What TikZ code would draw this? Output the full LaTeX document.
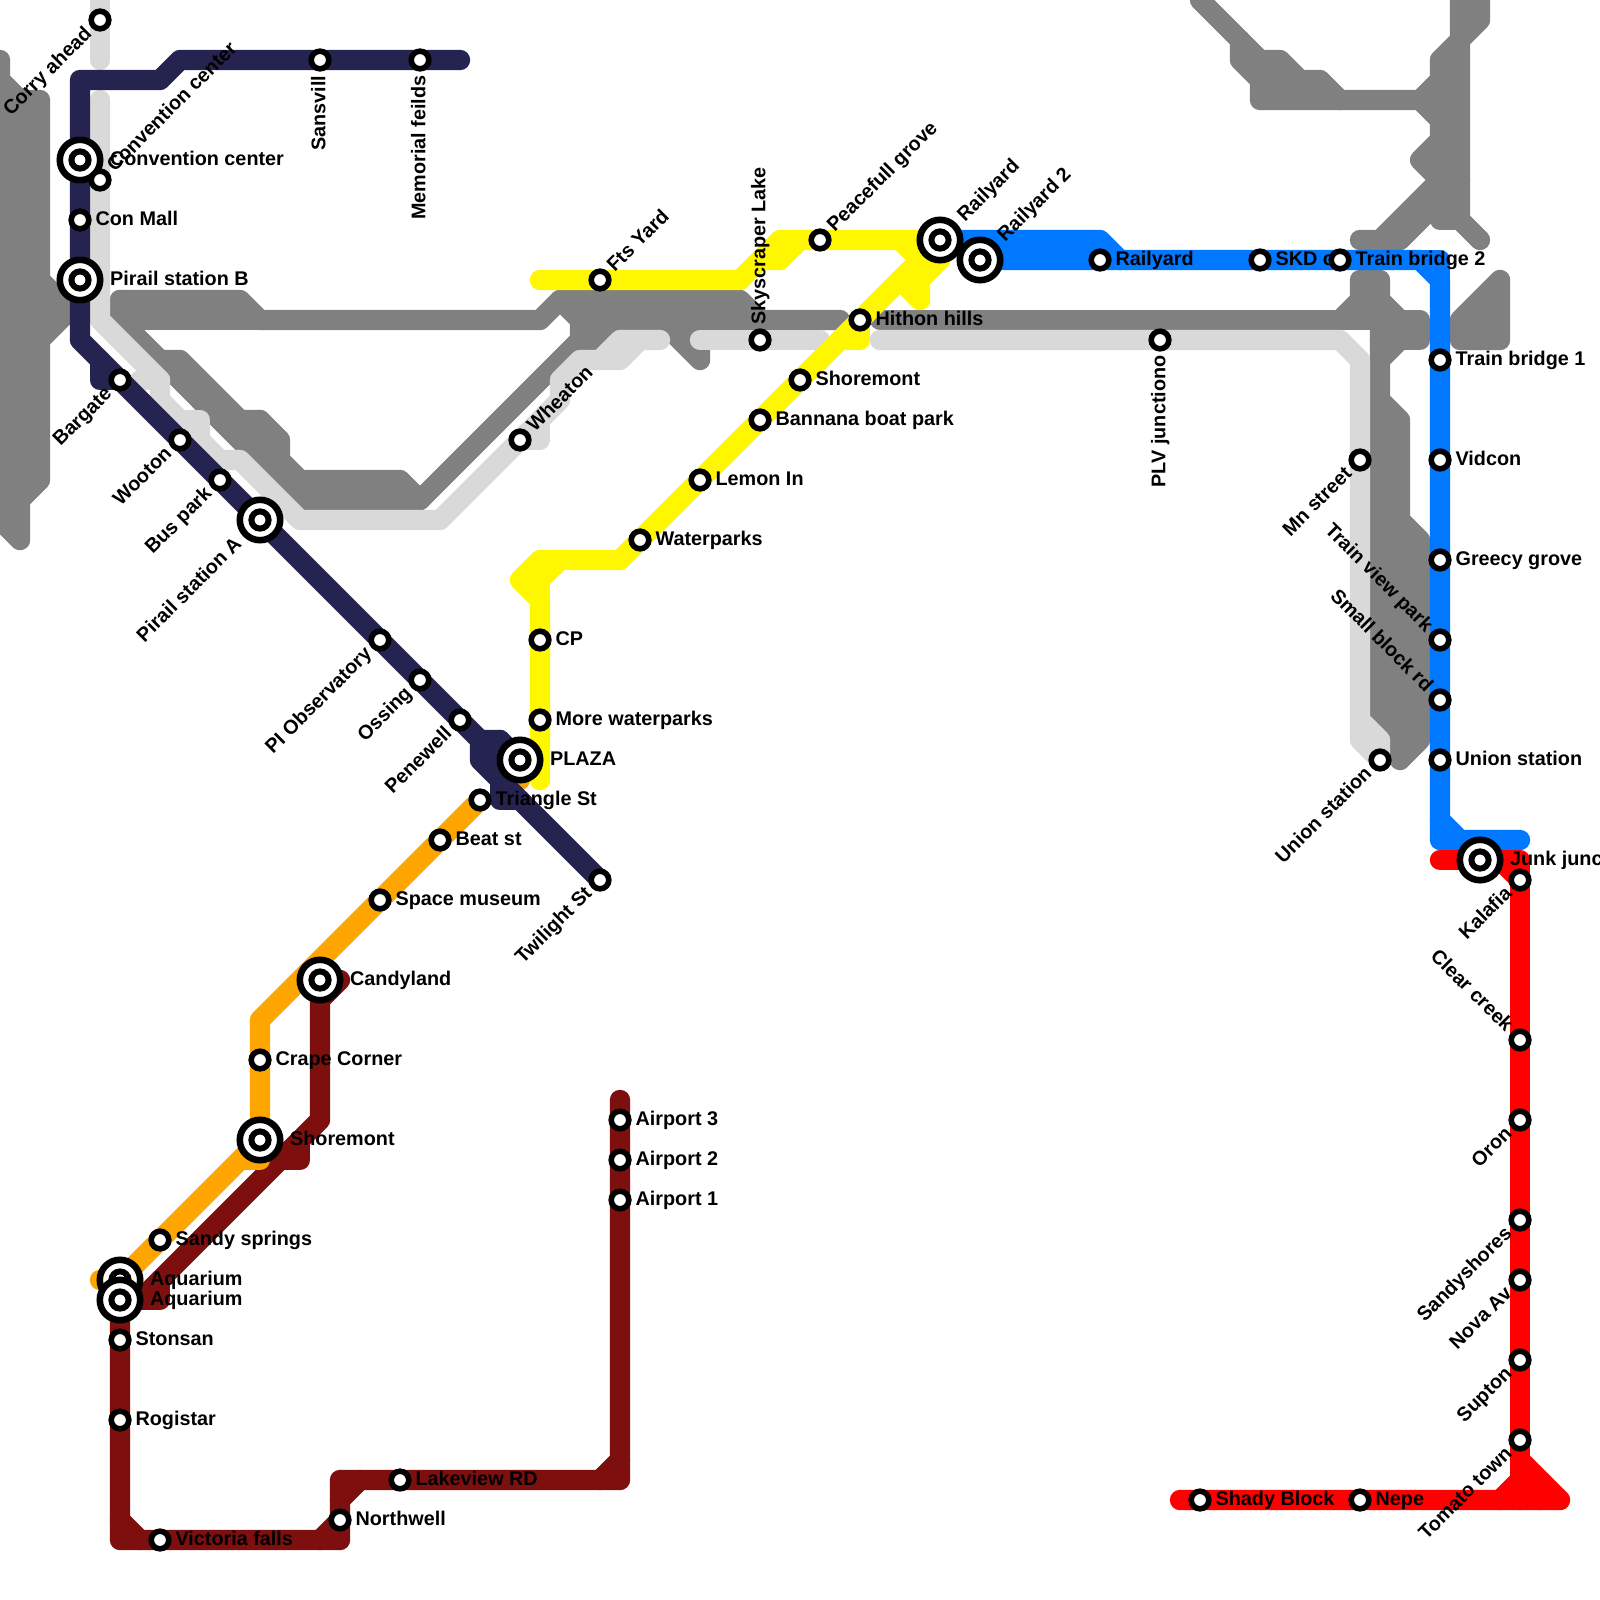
\documentclass[tikz,border=0pt]{standalone}
\usepackage{fontspec}
\setmainfont{Liberation Sans}
\usepackage{tikz}
\usetikzlibrary{backgrounds}

\definecolor{navyline}{HTML}{252350}
\definecolor{grayline}{HTML}{808080}
\definecolor{lightline}{HTML}{D9D9D9}
\definecolor{blueline}{HTML}{0078FF}
\definecolor{redline}{HTML}{FF0000}
\definecolor{yellowline}{HTML}{FFF700}
\definecolor{orangeline}{HTML}{FFA500}
\definecolor{wineline}{HTML}{7D0F0F}

\tikzset{
  metro/.style={line width=10.2pt,line cap=round,line join=round},
  stop/.style={draw,circle,color=black,fill=white,line width=2.8pt,minimum size=8.8pt,inner sep=0pt},
  hub/.style={draw,circle,color=black,fill=white,line width=3.3pt,minimum size=20.2pt,inner sep=0pt,
    path picture={\draw[line width=3pt] (path picture bounding box.center) circle (4.3pt);}},
  every label/.style={font=\bfseries\fontsize{9.9}{12}\selectfont,inner sep=0pt,text=black},
  labE/.style={anchor=base west,xshift=1.8pt,yshift=-2.7pt},
  labNE/.style={rotate=45,anchor=base west,xshift=1.8pt,yshift=-2.7pt},
  labSW/.style={rotate=45,anchor=base east,xshift=-1.8pt,yshift=-2.7pt},
  labN/.style={rotate=90,anchor=base west,xshift=1.8pt,yshift=-2.7pt},
  labS/.style={rotate=90,anchor=base east,xshift=-1.8pt,yshift=-2.7pt},
  labNW/.style={rotate=-45,anchor=base east,xshift=-1.8pt,yshift=-2.7pt},
}

\begin{document}
\begin{tikzpicture}[x=10pt,y=-10pt]
\useasboundingbox (0,0) rectangle (80,80);

\node (corry) at (5,1) [stop, label={[labSW]225:Corry ahead}] {};
\node (convhub) at (4,8) [hub, label={[labE,xshift=1.3pt]0:Convention center}] {};
\node (conv) at (5,9) [stop, label={[labNE]45:Convention center}] {};
\node (conmall) at (4,11) [stop, label={[labE]0:Con Mall}] {};
\node (pirailb) at (4,14) [hub, label={[labE,xshift=1.3pt]0:Pirail station B}] {};
\node (bargate) at (6,19) [stop, label={[labSW]225:Bargate}] {};
\node (wooton) at (9,22) [stop, label={[labSW]225:Wooton}] {};
\node (buspark) at (11,24) [stop, label={[labSW]225:Bus park}] {};
\node (piraila) at (13,26) [hub, label={[labSW,xshift=-1.3pt]225:Pirail station A}] {};
\node (plobs) at (19,32) [stop, label={[labSW]225:PI Observatory}] {};
\node (ossing) at (21,34) [stop, label={[labSW]225:Ossing}] {};
\node (penewell) at (23,36) [stop, label={[labSW]225:Penewell}] {};
\node (twilight) at (30,44) [stop, label={[labSW]225:Twilight St}] {};
\node (sansvill) at (16,3) [stop, label={[labS]270:Sansvill}] {};
\node (memorial) at (21,3) [stop, label={[labS]270:Memorial feilds}] {};

\node (plaza) at (26,38) [hub, label={[labE,xshift=1.3pt]0:PLAZA}] {};
\node (triangle) at (24,40) [stop, label={[labE]0:Triangle St}] {};
\node (beat) at (22,42) [stop, label={[labE]0:Beat st}] {};
\node (space) at (19,45) [stop, label={[labE]0:Space museum}] {};
\node (candy) at (16,49) [hub, label={[labE,xshift=1.3pt]0:Candyland}] {};
\node (crape) at (13,53) [stop, label={[labE]0:Crape Corner}] {};
\node (shorehub) at (13,57) [hub, label={[labE,xshift=1.3pt]0:Shoremont}] {};
\node (sandy) at (8,62) [stop, label={[labE]0:Sandy springs}] {};
\node (aquaone) at (6,64) [hub, label={[labE,xshift=1.3pt]0:Aquarium}] {};
\node (aquatwo) at (6,65) [hub, label={[labE,xshift=1.3pt]0:Aquarium}] {};
\node (stonsan) at (6,67) [stop, label={[labE]0:Stonsan}] {};
\node (rogistar) at (6,71) [stop, label={[labE]0:Rogistar}] {};
\node (victoria) at (8,77) [stop, label={[labE]0:Victoria falls}] {};
\node (northwell) at (17,76) [stop, label={[labE]0:Northwell}] {};
\node (lakeview) at (20,74) [stop, label={[labE]0:Lakeview RD}] {};
\node (airthree) at (31,56) [stop, label={[labE]0:Airport 3}] {};
\node (airtwo) at (31,58) [stop, label={[labE]0:Airport 2}] {};
\node (airone) at (31,60) [stop, label={[labE]0:Airport 1}] {};

\node (fts) at (30,14) [stop, label={[labNE]45:Fts Yard}] {};
\node (wheaton) at (26,22) [stop, label={[labNE]45:Wheaton}] {};
\node (skyscraper) at (38,17) [stop, label={[labN]90:Skyscraper Lake}] {};
\node (peacefull) at (41,12) [stop, label={[labNE]45:Peacefull grove}] {};
\node (hithon) at (43,16) [stop, label={[labE]0:Hithon hills}] {};
\node (shoremont) at (40,19) [stop, label={[labE]0:Shoremont}] {};
\node (bannana) at (38,21) [stop, label={[labE]0:Bannana boat park}] {};
\node (lemon) at (35,24) [stop, label={[labE]0:Lemon In}] {};
\node (waterparks) at (32,27) [stop, label={[labE]0:Waterparks}] {};
\node (cp) at (27,32) [stop, label={[labE]0:CP}] {};
\node (morewater) at (27,36) [stop, label={[labE]0:More waterparks}] {};

\node (railone) at (47,12) [hub, label={[labNE,xshift=1.3pt]45:Railyard}] {};
\node (railtwo) at (49,13) [hub, label={[labNE,xshift=1.3pt]45:Railyard 2}] {};
\node (railyard) at (55,13) [stop, label={[labE]0:Railyard}] {};
\node (skd) at (63,13) [stop, label={[labE]0:SKD c}] {};
\node (bridgetwo) at (67,13) [stop, label={[labE]0:Train bridge 2}] {};
\node (plv) at (58,17) [stop, label={[labS]270:PLV junctiono}] {};
\node (bridgeone) at (72,18) [stop, label={[labE]0:Train bridge 1}] {};
\node (vidcon) at (72,23) [stop, label={[labE]0:Vidcon}] {};
\node (greecy) at (72,28) [stop, label={[labE]0:Greecy grove}] {};
\node (trainview) at (72,32) [stop, label={[labNW]135:Train view park}] {};
\node (smallblock) at (72,35) [stop, label={[labNW]135:Small block rd}] {};
\node (unionright) at (72,38) [stop, label={[labE]0:Union station}] {};
\node (mnstreet) at (68,23) [stop, label={[labSW]225:Mn street}] {};
\node (unionleft) at (69,38) [stop, label={[labSW]225:Union station}] {};

\node (junk) at (74,43) [hub, label={[labE,xshift=1.3pt]0:Junk junc}] {};
\node (kalafia) at (76,44) [stop, label={[labSW]225:Kalafia}] {};
\node (clear) at (76,52) [stop, label={[labNW]135:Clear creek}] {};
\node (oron) at (76,56) [stop, label={[labSW]225:Oron}] {};
\node (sandyshores) at (76,61) [stop, label={[labSW]225:Sandyshores}] {};
\node (nova) at (76,64) [stop, label={[labSW]225:Nova Av}] {};
\node (supton) at (76,68) [stop, label={[labSW]225:Supton}] {};
\node (tomato) at (76,72) [stop, label={[labSW]225:Tomato town}] {};
\node (shady) at (60,75) [stop, label={[labE]0:Shady Block}] {};
\node (nepe) at (68,75) [stop, label={[labE]0:Nepe}] {};

\begin{scope}[on background layer]
% gray
\draw[metro,grayline] (0,3) -- (0,26) -- (1,27) -- (1,25) -- (2,24) -- (2,5) -- (1,5) -- (0,4);
\draw[metro,grayline] (1,5) -- (1,25);
\draw[metro,grayline] (2,14) -- (4,16);
\draw[metro,grayline] (2,17) -- (4,15);
\draw[metro,grayline] (2,15) -- (3,15.5) -- (2,16);
\draw[metro,grayline] (6,15) -- (12,15) -- (13,16) -- (27,16) -- (28,15) -- (37,15) -- (38,16) -- (42,16);
\draw[metro,grayline] (6,16) -- (13,16);
\draw[metro,grayline] (6,15) -- (6,16) -- (15,25) -- (21,25) -- (29,17) -- (29,16) -- (28,15);
\draw[metro,grayline] (8,18) -- (9,18) -- (12,21) -- (13,21) -- (14,22) -- (14,23) -- (15,24) -- (20,24) -- (21,25);
\draw[metro,grayline] (12,21) -- (14,23);
\draw[metro,grayline] (13,21) -- (13,23);
\draw[metro,grayline] (15,25) -- (14,23);
\draw[metro,grayline] (10,20) -- (14,24);
\draw[metro,grayline] (29,16) -- (38,16);
\draw[metro,grayline] (29,17) -- (30,17) -- (31,16);
\draw[metro,grayline] (33,16) -- (34,17) -- (35,17) -- (35,18) -- (34,17);
\draw[metro,grayline] (44,16) -- (71,16) -- (71,17) -- (69,17);
\draw[metro,grayline] (67,16) -- (68,15) -- (68,14) -- (69,14) -- (69,15) -- (70,16);
\draw[metro,grayline] (68,15) -- (68,16);
\draw[metro,grayline] (69,15) -- (69,36) -- (70,37) -- (70,38) -- (71,37) -- (71,27) -- (70,26) -- (70,21) -- (69,20);
\draw[metro,grayline] (70,17) -- (69,18);
\draw[metro,grayline] (70,26) -- (70,37);
\draw[metro,grayline] (60,0) -- (62,2) -- (62,3) -- (63,4) -- (63,5) -- (71,5) -- (72,6) -- (72,7) -- (71,8) -- (72,9) -- (69,12) -- (68,12);
\draw[metro,grayline] (62,2) -- (63,3) -- (64,3) -- (65,4) -- (66,4) -- (67,5);
\draw[metro,grayline] (63,4) -- (65,4);
\draw[metro,grayline] (71,5) -- (72,4) -- (72,3) -- (73,2) -- (74,1) -- (74,-1);
\draw[metro,grayline] (73,-1) -- (73,11) -- (74,12);
\draw[metro,grayline] (72,3) -- (72,11) -- (73,11);
\draw[metro,grayline] (69,12) -- (70,12) -- (73,9);
\draw[metro,grayline] (73,16) -- (75,14) -- (75,17) -- (73,17) -- cycle;
\draw[metro,grayline] (74,15) -- (74,17);
% light gray
\draw[metro,lightline] (5,-1) -- (corry.center) -- (5,3);
\draw[metro,lightline] (5,5) -- (conv.center) -- (5,16) -- (8,19) -- (8,20) -- (11,23) -- (12,23) -- (15,26) -- (22,26) -- (wheaton.center) -- (28,20) -- (28,19) -- (29,18) -- (31,18) -- (32,17) -- (33,17);
\draw[metro,lightline] (7,19) -- (8,19);
\draw[metro,lightline] (9,21) -- (10,21) -- (10,22);
\draw[metro,lightline] (wheaton.center) -- (27,22) -- (27,21);
\draw[metro,lightline] (30,18) -- (31,17) -- (32,17);
\draw[metro,lightline] (35,17) -- (skyscraper.center) -- (41,17);
\draw[metro,lightline] (44,17) -- (plv.center) -- (67,17) -- (68,18) -- (mnstreet.center) -- (68,37) -- (unionleft.center);
\draw[metro,lightline] (68,36) -- (69,37) -- (unionleft.center);
% blue
\draw[metro,blueline] (railtwo.center) -- (railyard.center) -- (skd.center) -- (bridgetwo.center) -- (71,13) -- (72,14) -- (unionright.center) -- (72,42) -- (76,42);
\draw[metro,blueline] (railone.center) -- (55,12) -- (56,13);
\draw[metro,blueline] (71,13) -- (72,13) -- (72,14);
\draw[metro,blueline] (72,41) -- (73,42);
% red
\draw[metro,redline] (72,43) -- (junk.center) -- (76,43) -- (kalafia.center) -- (tomato.center) -- (76,75);
\draw[metro,redline] (75,43) -- (kalafia.center);
\draw[metro,redline] (59,75) -- (shady.center) -- (nepe.center) -- (78,75) -- (76,73);
\draw[metro,redline] (75,75) -- (76,74) -- (77,75);
% wine
\draw[metro,wineline] (31,55) -- (airone.center) -- (31,74) -- (lakeview.center) -- (17,74) -- (northwell.center) -- (17,77) -- (victoria.center) -- (6,77) -- (aquatwo.center) -- (7,65) -- (16,56) -- (16,50) -- (17,49);
\draw[metro,wineline] (7,65) -- (8,65) -- (8,64);
\draw[metro,wineline] (14,58) -- (15,58) -- (15,57);
\draw[metro,wineline] (6,76) -- (7,77);
\draw[metro,wineline] (16,77) -- (17,76);
\draw[metro,wineline] (17,75) -- (18,74);
\draw[metro,wineline] (30,74) -- (31,73);
% orange
\draw[metro,orangeline] (triangle.center) -- (13,51) -- (shorehub.center) -- (aquaone.center) -- (5,64);
\draw[metro,orangeline] (shorehub.center) -- (13,58) -- (12,58);
\draw[metro,orangeline] (plaza.center) -- (26,39);
% yellow
\draw[metro,yellowline] (fts.center) -- (27,14) -- (37,14) -- (39,12) -- (railone.center);
\draw[metro,yellowline] (38,13) -- (39,13) -- (40,12);
\draw[metro,yellowline] (45,12) -- (46,13) -- (hithon.center) -- (waterparks.center) -- (31,28) -- (27,28) -- (26,29) -- (27,30) -- (27,39);
\draw[metro,yellowline] (27,29) -- (27,30);
\draw[metro,yellowline] (27,29) -- (28,28);
\draw[metro,yellowline] (railone.center) -- (47,13) -- (46,14) -- (46,15) -- (45,14);
\draw[metro,yellowline] (46,13) -- (47,13);
\draw[metro,yellowline] (42,17) -- (43,17) -- (hithon.center);
% navy
\draw[metro,navyline] (23,3) -- (memorial.center) -- (sansvill.center) -- (9,3) -- (8,4) -- (4,4) -- (convhub.center) -- (4,17) -- (penewell.center) -- (24,37) -- (24,38) -- (twilight.center);
\draw[metro,navyline] (5,18) -- (5,19) -- (bargate.center);
\draw[metro,navyline] (24,37) -- (25,37) -- (plaza.center);
\draw[metro,navyline] (25,37) -- (25,39) -- (25,40) -- (26,40);
\end{scope}

\end{tikzpicture}
\end{document}
